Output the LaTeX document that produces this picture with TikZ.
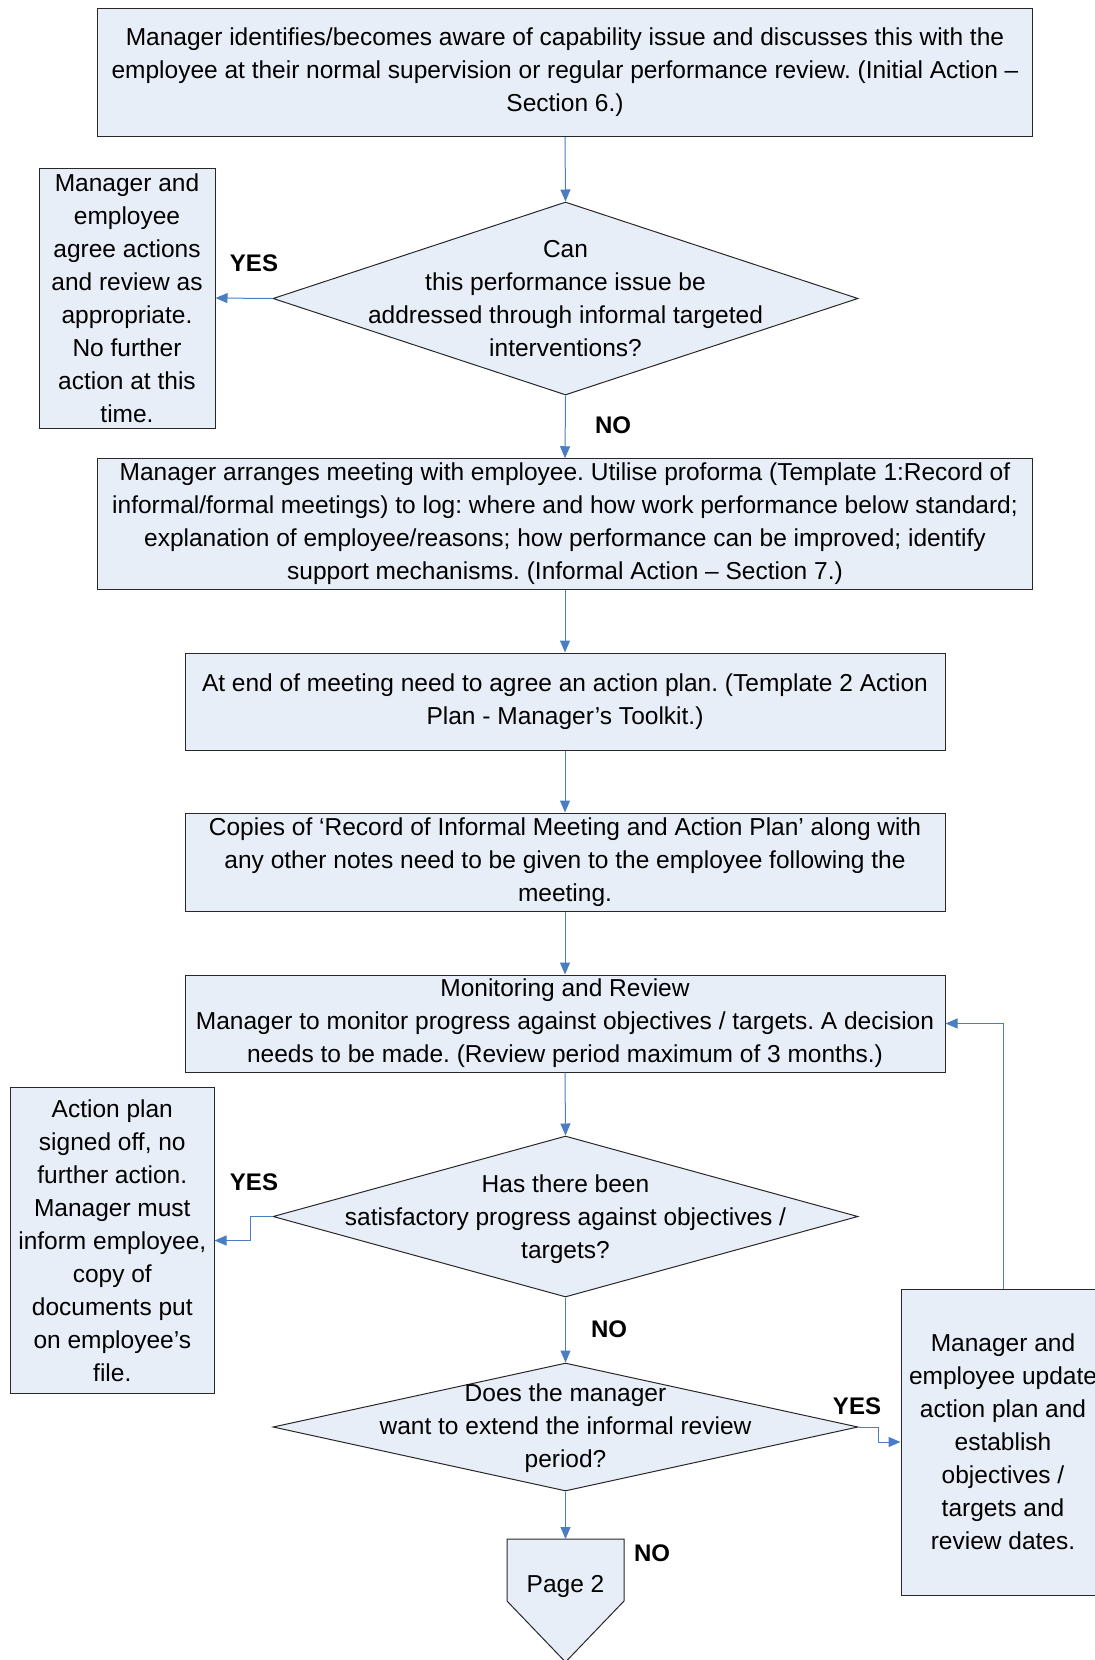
\documentclass[tikz,border=0pt]{standalone}
\usepackage{fontspec}
\setmainfont{Liberation Sans}
\usetikzlibrary{shapes.geometric,arrows.meta}
\definecolor{boxfill}{RGB}{232,238,247}
\definecolor{linkblue}{RGB}{74,126,193}
\definecolor{edgegray}{RGB}{40,40,40}
\frenchspacing
\begin{document}
\begin{tikzpicture}[x=1pt,y=-1pt,
  txt/.style={font=\fontsize{24.5}{33}\selectfont\frenchspacing, align=center},
  proc/.style={rectangle, draw=edgegray, line width=1pt, fill=boxfill, inner sep=0pt, txt},
  dec/.style={diamond, draw=edgegray, line width=1pt, fill=boxfill, inner sep=0pt},
  link/.style={draw=linkblue, line width=1pt, -{Triangle[length=12pt,width=10pt]}},
  lbl/.style={font=\fontsize{24}{28}\selectfont\bfseries}
]
\useasboundingbox (0,0) rectangle (1095,1660);
\clip (0,0) rectangle (1095,1660);

\node[proc, minimum width=935pt, minimum height=128pt] (top) at (565,72.5)
  {\rule{0pt}{2pt}Manager identifies/becomes aware of capability issue and discusses this with the\\employee at their normal supervision or regular performance review. (Initial Action –\\Section 6.)};

\node[dec, minimum width=585pt, minimum height=193pt] (d1) at (565.5,298.5) {};
\node[txt] (d1t) at (d1) {Can\\this performance issue be\\addressed through informal targeted\\interventions?};

\node[proc, minimum width=176pt, minimum height=260pt] (lb1) at (127,298)
  {Manager and\\employee\\agree actions\\and review as\\appropriate.\\No further\\action at this\\time.};

\node[proc, minimum width=935pt, minimum height=130.5pt] (b3) at (565,524)
  {Manager arranges meeting with employee. Utilise proforma (Template 1:Record of\\informal/formal meetings) to log: where and how work performance below standard;\\explanation of employee/reasons; how performance can be improved; identify\\support mechanisms. (Informal Action – Section 7.)};

\node[proc, minimum width=760pt, minimum height=97pt] (b4) at (565,701.5)
  {At end of meeting need to agree an action plan. (Template 2 Action\\Plan - Manager’s Toolkit.)};

\node[proc, minimum width=760pt, minimum height=98pt] (b5) at (565,862)
  {Copies of ‘Record of Informal Meeting and Action Plan’ along with\\any other notes need to be given to the employee following the\\meeting.};

\node[proc, minimum width=760pt, minimum height=97pt] (b6) at (565,1023.5)
  {Monitoring and Review\\Manager to monitor progress against objectives / targets. A decision\\needs to be made. (Review period maximum of 3 months.)};

\node[dec, minimum width=585pt, minimum height=161pt] (d2) at (565.5,1216.5) {};
\node[txt] (d2t) at (565.5,1219) {Has there been\\satisfactory progress against objectives /\\targets?};

\node[proc, minimum width=203.4pt, minimum height=306pt] (lb2) at (112.3,1240.5)
  {Action plan\\signed off, no\\further action.\\Manager must\\inform employee,\\copy of\\documents put\\on employee’s\\file.};

\node[dec, minimum width=585pt, minimum height=128pt] (d3) at (565.5,1427) {};
\node[txt] (d3t) at (565.5,1428) {Does the manager\\want to extend the informal review\\period?};

\node[proc, minimum width=204pt, minimum height=306pt] (rb) at (1003,1442)
  {Manager and\\employee update\\action plan and\\establish\\objectives /\\targets and\\review dates.};

% off-page connector
\draw[draw=edgegray, line width=1pt, fill=boxfill]
  (507,1539) -- (624,1539) -- (624,1601) -- (565.5,1662) -- (507,1601) -- cycle;
\coordinate (p2) at (565.5,1539);
\node[txt] (p2t) at (565.5,1586) {Page 2};

% connectors
\draw[link] (top.south) -- (d1.north);
\draw[link] (d1.west) -- (lb1.east);
\draw[link] (d1.south) -- (b3.north);
\draw[link] (b3.south) -- (b4.north);
\draw[link] (b4.south) -- (b5.north);
\draw[link] (b5.south) -- (b6.north);
\draw[link] (b6.south) -- (d2.north);
\draw[link] (d2.west) -- ++(-22,0) |- (lb2.east);
\draw[link] (d2.south) -- (d3.north);
\draw[link] (d3.east) -- ++(20,0) |- (rb.west);
\draw[link] (d3.south) -- (p2);
\draw[link] (rb.north) |- (b6.east);

% labels
\node[lbl] (yes1) at (254,263) {YES};
\node[lbl] (no1) at (613,425) {NO};
\node[lbl] (yes2) at (254,1182) {YES};
\node[lbl] (no2) at (609,1329) {NO};
\node[lbl] (yes3) at (857,1406) {YES};
\node[lbl] (no3) at (652,1553) {NO};
\end{tikzpicture}
\end{document}
